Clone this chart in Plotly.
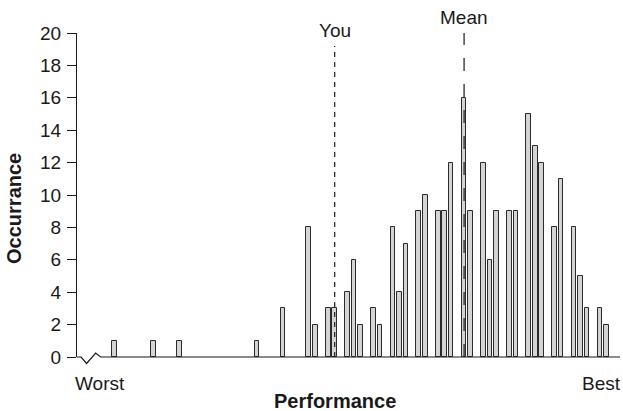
import plotly.graph_objects as go

# Histogram of performance scores (slot index -> number of occurrences)
slots = [0, 6, 10, 22, 26, 30, 31, 33, 34, 36, 37, 38, 40, 41, 43, 44, 45,
         47, 48, 50, 51, 52, 54, 55, 57, 58, 59, 61, 62, 64, 65, 66, 68, 69,
         71, 72, 73, 75, 76]
counts = [1, 1, 1, 1, 3, 8, 2, 3, 3, 4, 6, 2, 3, 2, 8, 4, 7,
          9, 10, 9, 9, 12, 16, 9, 12, 6, 9, 9, 9, 15, 13, 12, 8, 11,
          8, 5, 3, 3, 2]
y_ticks = [0, 2, 4, 6, 8, 10, 12, 14, 16, 18, 20]

you_slot = 34
mean_slot = 54

FONT = "Liberation Sans, Arial, sans-serif"
INK = "#1a1a1a"

fig = go.Figure()
fig.add_trace(go.Bar(
    x=slots, y=counts, width=0.72,
    marker=dict(color="#d4d4d4", line=dict(color="#2b2b2b", width=1)),
    hoverinfo="x+y",
))

# Markers for the individual score and the group mean
fig.add_shape(type="line", xref="x", yref="y", x0=you_slot, x1=you_slot,
              y0=0, y1=19.2, line=dict(color=INK, width=1.2, dash="5px,5px"),
              layer="above")
fig.add_shape(type="line", xref="x", yref="y", x0=mean_slot, x1=mean_slot,
              y0=0, y1=20, line=dict(color=INK, width=1.2, dash="13px,13px"),
              layer="above")

# Baseline with an axis-break zigzag near the origin
fig.add_shape(type="path", xref="paper", yref="paper",
              path="M 0,0 L 0.0075,0 L 0.0177,-0.02 L 0.0343,0.012 L 0.0435,0 L 1,0",
              line=dict(color=INK, width=1.2), layer="above")

ann = dict(showarrow=False, font=dict(family=FONT, size=19, color=INK))
fig.add_annotation(x=you_slot, y=1.0, xref="x", yref="paper", yanchor="middle",
                   yshift=3, xanchor="center", text="You", **ann)
fig.add_annotation(x=mean_slot, y=1.0, xref="x", yref="paper", yanchor="middle",
                   yshift=16, xanchor="center", text="Mean", **ann)
fig.add_annotation(x=0.042, y=0, xref="paper", yref="paper", xanchor="center",
                   yanchor="top", yshift=-14, text="Worst", **ann)
fig.add_annotation(x=1.005, y=0, xref="paper", yref="paper", xanchor="right",
                   yanchor="top", yshift=-14, text="Best", **ann)
fig.add_annotation(x=0.475, y=0, xref="paper", yref="paper", xanchor="center",
                   yanchor="middle", yshift=-44, text="<b>Performance</b>",
                   showarrow=False, font=dict(family=FONT, size=20, color=INK))
fig.add_annotation(x=-0.116, y=0.457, xref="paper", yref="paper", textangle=-90,
                   xanchor="center", yanchor="middle", text="<b>Occurrance</b>",
                   showarrow=False, font=dict(family=FONT, size=20, color=INK))

fig.update_layout(
    width=623, height=411,
    margin=dict(l=77, r=3, t=33, b=54),
    paper_bgcolor="white", plot_bgcolor="white",
    showlegend=False, bargap=0,
    font=dict(family=FONT, color=INK),
    xaxis=dict(range=[-5.83, 78.1], showticklabels=False, ticks="",
               showgrid=False, zeroline=False, showline=False),
    yaxis=dict(range=[0, 20], tickvals=y_ticks, ticks="outside", ticklen=9,
               tickwidth=1.2, tickcolor=INK, showline=True, linecolor=INK,
               linewidth=1.2, showgrid=False, zeroline=False,
               ticklabelstandoff=2,
               tickfont=dict(family=FONT, size=19, color=INK)),
)

fig.write_html("out.html")
